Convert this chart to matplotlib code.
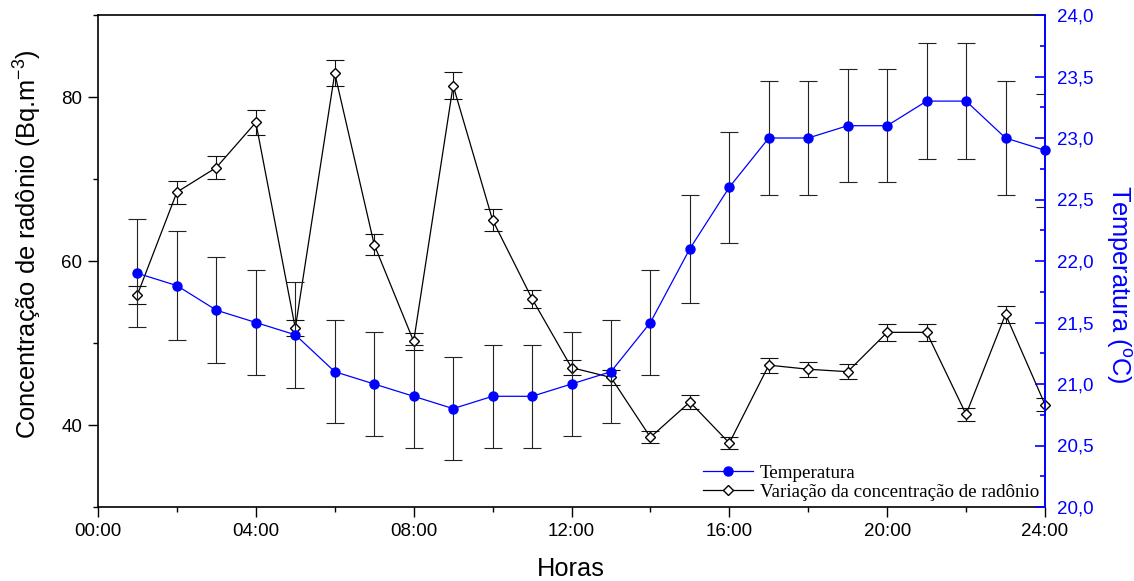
import matplotlib
matplotlib.use("Agg")
import matplotlib.pyplot as plt
from matplotlib.ticker import MultipleLocator, FuncFormatter

# ---- data ----
hours = [1, 2, 3, 4, 5, 6, 7, 8, 9, 10, 11, 12, 13, 14, 15, 16, 17, 18, 19, 20, 21, 22, 23, 24]
radon = [55.9, 68.4, 71.4, 76.9, 51.8, 82.9, 62.0, 50.2, 81.4, 65.0, 55.4, 47.0,
         45.8, 38.5, 42.8, 37.8, 47.3, 46.8, 46.5, 51.3, 51.3, 41.3, 53.5, 42.5]
radon_err = [1.1, 1.4, 1.4, 1.5, 1.0, 1.6, 1.3, 1.0, 1.6, 1.3, 1.1, 0.9,
             0.9, 0.75, 0.85, 0.75, 0.9, 0.9, 0.9, 1.0, 1.0, 0.8, 1.05, 0.85]
temp = [21.9, 21.8, 21.6, 21.5, 21.4, 21.1, 21.0, 20.9, 20.8, 20.9, 20.9, 21.0,
        21.1, 21.5, 22.1, 22.6, 23.0, 23.0, 23.1, 23.1, 23.3, 23.3, 23.0, 22.9]
temp_err = [0.44, 0.44, 0.43, 0.43, 0.43, 0.42, 0.42, 0.42, 0.42, 0.42, 0.42, 0.42,
            0.42, 0.43, 0.44, 0.45, 0.46, 0.46, 0.46, 0.46, 0.47, 0.47, 0.46, 0.46]
xtick_hours = [0, 4, 8, 12, 16, 20, 24]

BLUE = "#0000FF"
plt.rcParams["font.family"] = ["Liberation Sans", "DejaVu Sans"]
plt.rcParams["mathtext.fontset"] = "custom"
plt.rcParams["mathtext.rm"] = "Liberation Sans"
plt.rcParams["mathtext.sf"] = "Liberation Sans"
plt.rcParams["mathtext.it"] = "Liberation Sans:italic"

W, H = 1134, 581
fig = plt.figure(figsize=(W / 100, H / 100), dpi=100)
L, R, T, B = 98, 1045, 15, 507
ax = fig.add_axes([L / W, 1 - B / H, (R - L) / W, (B - T) / H])

# radon series
ax.errorbar(hours, radon, yerr=radon_err, fmt="none", ecolor="#111111",
            elinewidth=0.8, capsize=6.8, capthick=0.8, zorder=2)
ax.plot(hours, radon, "-", color="black", lw=0.9, marker="D", ms=5.4,
        mfc="white", mec="black", mew=1.0, zorder=3, clip_on=False,
        label="Variação da concentração de radônio")

ax.set_xlim(0, 24)
ax.set_ylim(30, 90)
ax.set_xticks(xtick_hours)
ax.xaxis.set_minor_locator(MultipleLocator(2))
ax.xaxis.set_major_formatter(FuncFormatter(lambda v, p: f"{int(round(v)):02d}:00"))
ax.yaxis.set_major_locator(MultipleLocator(20))
ax.yaxis.set_minor_locator(MultipleLocator(10))
ax.tick_params(axis="both", which="major", direction="out", length=7, width=1.0,
               labelsize=13.5, pad=4.5)
ax.tick_params(axis="both", which="minor", direction="out", length=3.6, width=1.0)
ax.tick_params(axis="y", which="both", right=False)
for s in ["left", "bottom", "top"]:
    ax.spines[s].set_linewidth(1.2)
ax.spines["right"].set_visible(False)

ax.set_xlabel("Horas", fontsize=18.3, va="baseline")
ax.xaxis.set_label_coords(0.4995, (B - 576) / (B - T))
ax.set_ylabel(r"Concentração de radônio (Bq.m$^{-3}$)", fontsize=18.3, va="center")
ax.yaxis.set_label_coords((28 - L) / (R - L), 0.535)

# temperature series
ax2 = ax.twinx()
ax2.errorbar(hours, temp, yerr=temp_err, fmt="none", ecolor="#222222",
             elinewidth=0.8, capsize=6.8, capthick=0.8, zorder=2)
ax2.plot(hours, temp, "-", color=BLUE, lw=0.9, marker="o", ms=6.5,
         mfc=BLUE, mec=BLUE, zorder=3, clip_on=False, label="Temperatura")
ax2.set_ylim(20, 24)
ax2.yaxis.set_major_locator(MultipleLocator(0.5))
ax2.yaxis.set_minor_locator(MultipleLocator(0.25))
ax2.yaxis.set_major_formatter(FuncFormatter(lambda v, p: f"{v:.1f}".replace(".", ",")))
ax2.tick_params(axis="y", which="major", direction="in", length=7, width=1.2,
                color=BLUE, labelcolor=BLUE, labelsize=13.5, pad=8.6)
ax2.tick_params(axis="y", which="minor", direction="in", length=3.6, width=1.2, color=BLUE)
ax2.spines["right"].set_color(BLUE)
ax2.spines["right"].set_linewidth(1.4)
for s in ["left", "bottom", "top"]:
    ax2.spines[s].set_visible(False)
ax2.set_ylabel(r"Temperatura ($^{\mathrm{o}}$C)", fontsize=18.3, color=BLUE,
               rotation=270, va="center", ha="center")
ax2.yaxis.set_label_coords((1119 - L) / (R - L), 0.453)

h1, l1 = ax2.get_legend_handles_labels()
h2, l2 = ax.get_legend_handles_labels()
leg = ax2.legend(h1 + h2, l1 + l2, loc="lower left", bbox_to_anchor=(0.639, 0.012),
                 frameon=False, borderpad=0, borderaxespad=0,
                 prop={"family": "Liberation Serif", "size": 13.7},
                 handlelength=2.6, handletextpad=0.37, labelspacing=0.1)

fig.savefig("out.png", dpi=100)
